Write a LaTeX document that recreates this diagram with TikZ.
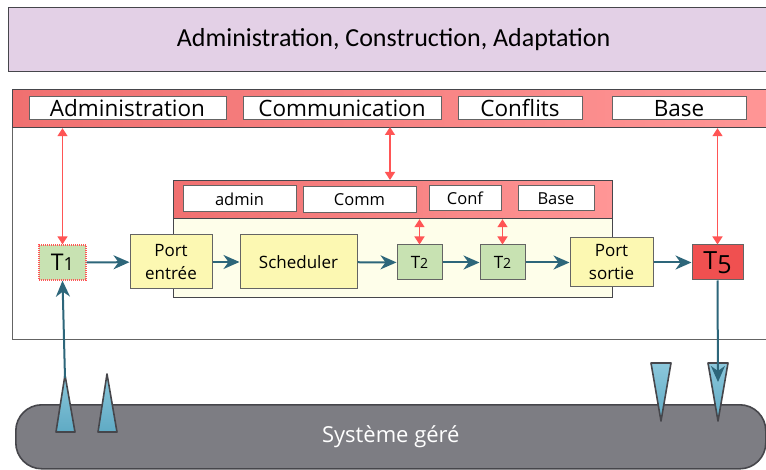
\documentclass[tikz,border=0pt]{standalone}
\usepackage{fontspec}
\setmainfont{Open Sans}
\newfontfamily\titlefont{Carlito}
\usetikzlibrary{arrows.meta}
\definecolor{lav}{RGB}{227,208,230}
\definecolor{bandl}{RGB}{240,112,112}
\definecolor{bandr}{RGB}{255,150,150}
\definecolor{edge}{RGB}{70,70,75}
\definecolor{subedge}{RGB}{100,100,100}
\definecolor{tgreen}{RGB}{200,226,178}
\definecolor{pyellow}{RGB}{252,248,178}
\definecolor{innerbg}{RGB}{254,254,234}
\definecolor{tred}{RGB}{240,80,80}
\definecolor{myteal}{RGB}{45,102,122}
\definecolor{redarrow}{RGB}{255,85,85}
\definecolor{trifill}{RGB}{95,170,196}
\definecolor{trifillb}{RGB}{140,200,220}
\definecolor{sysgray}{RGB}{125,125,131}
\tikzset{
  fs/.style={font=\fontsize{#1}{#1}\selectfont},
  fsl/.style={font=\fontsize{#1}{23}\selectfont},
  whitebox/.style={draw=subedge, line width=1pt, fill=white, inner sep=0pt},
  tbox/.style={draw=subedge, line width=1pt, fill=tgreen, inner sep=0pt},
  pbox/.style={draw=subedge, line width=1pt, fill=pyellow, inner sep=0pt, align=center},
  redarr/.style={draw=redarrow, line width=1.4pt, {Triangle[length=8pt,width=10pt]}-{Triangle[length=8pt,width=10pt]}},
  tealarr/.style={draw=myteal, line width=2pt, -{Stealth[length=16pt,width=14pt,inset=5pt]}},
  tri/.style={draw=edge, line width=1.6pt, line join=round, bottom color=trifill, top color=trifillb},
}
\begin{document}
\begin{tikzpicture}[x=1pt,y=-1pt]
\useasboundingbox (0,0) rectangle (766,470);
\clip (0,0) rectangle (766,470);
% top band
\node[draw=edge, line width=1.2pt, fill=lav, minimum width=770pt, minimum height=64pt, anchor=north west, inner sep=0pt, font=\titlefont\fontsize{26}{26}\selectfont] (top) at (8,7) {Administration, Construction, Adaptation};
% outer white box
\node[draw=subedge, line width=1.2pt, fill=white, minimum width=762pt, minimum height=212pt, anchor=north west, inner sep=0pt] (outer) at (12,127) {};
% red band
\node[draw=edge, line width=1.2pt, left color=bandl, right color=bandr, minimum width=762pt, minimum height=38pt, anchor=north west, inner sep=0pt] (band) at (12,89) {};
\node[whitebox, fs=22.5, minimum width=197pt, minimum height=23pt] (adm) at (127.5,108.5) {Administration};
\node[whitebox, fs=22.5, minimum width=198pt, minimum height=23pt] (com) at (342,108.5) {Communication};
\node[whitebox, fs=22.5, minimum width=124pt, minimum height=23pt] (conf) at (520,108.5) {Conflits};
\node[whitebox, fs=22.5, minimum width=134pt, minimum height=23pt] (base) at (679,108.5) {Base};
% inner box
\node[draw=edge, line width=1.2pt, fill=innerbg, minimum width=439pt, minimum height=79pt, anchor=north west, inner sep=0pt] (inner) at (173,218) {};
\node[draw=edge, line width=1.2pt, left color=bandl, right color=bandr, minimum width=439pt, minimum height=38pt, anchor=north west, inner sep=0pt] (innerhead) at (173,180) {};
\node[whitebox, fs=16.5, minimum width=113pt, minimum height=26pt] (iadm) at (239.5,199) {admin};
\node[whitebox, fs=16.5, minimum width=113pt, minimum height=26pt] (icom) at (359.5,200) {Comm};
\node[whitebox, fs=16.5, minimum width=72pt, minimum height=25pt] (iconf) at (465,198.5) {Conf};
\node[whitebox, fs=16.5, minimum width=76pt, minimum height=25pt] (ibase) at (556,198.5) {Base};
% flow nodes
\node[tbox, draw=redarrow, densely dotted, line width=1.3pt, fs=23, minimum width=47pt, minimum height=35pt] (t1) at (62.5,262.5) {T{\fontsize{18}{18}\selectfont 1}};
\node[pbox, fsl=17, minimum width=82pt, minimum height=54pt] (pin) at (171,262) {Port\\entrée};
\node[pbox, fs=17, minimum width=117pt, minimum height=54pt] (sch) at (298.5,262) {Scheduler};
\node[tbox, fs=17, minimum width=45pt, minimum height=35pt] (t2a) at (419.5,262.5) {T{\fontsize{14}{14}\selectfont 2}};
\node[tbox, fs=17, minimum width=45pt, minimum height=35pt] (t2b) at (502.5,262.5) {T{\fontsize{14}{14}\selectfont 2}};
\node[pbox, fsl=17, minimum width=83pt, minimum height=49pt] (pout) at (611.5,262.5) {Port\\sortie};
\node[draw=subedge, line width=1pt, fill=tred, inner sep=0pt, fs=25, minimum width=51pt, minimum height=35pt] (t5) at (717.5,262.5) {T\raisebox{-4pt}{5}};
% system
\node[draw=edge, line width=1.6pt, fill=sysgray, rounded corners=26pt, minimum width=750pt, minimum height=64pt, anchor=north west, inner sep=0pt, text=white, fs=22] (sys) at (15,404) {Système géré};
% triangles
\filldraw[tri] (56,432) -- (65,375) -- (75,432) -- cycle;
\filldraw[tri] (98,432) -- (107,374) -- (117,432) -- cycle;
\filldraw[tri] (651,363) -- (661,421) -- (671,363) -- cycle;
\filldraw[tri] (708,363) -- (718,421) -- (728,363) -- cycle;
\coordinate (tipin) at (65,378);
\coordinate (tipout) at (718,382);
% red arrows
\draw[redarr] (t1.north |- band.south) -- (t1.north);
\draw[redarr] (390,127) -- (390,180);
\draw[redarr] (t2a.north |- innerhead.south) -- (t2a.north);
\draw[redarr] (t2b.north |- innerhead.south) -- (t2b.north);
\draw[redarr] (t5.north |- band.south) -- (t5.north);
% teal arrows
\draw[tealarr] (t1) -- (pin);
\draw[tealarr] (pin) -- (sch);
\draw[tealarr] (sch) -- (t2a);
\draw[tealarr] (t2a) -- (t2b);
\draw[tealarr] (t2b) -- (pout);
\draw[tealarr] (pout) -- (t5);
\draw[tealarr] (tipin) -- (t1.south);
\draw[tealarr] (t5.south) -- (tipout);
\end{tikzpicture}
\end{document}
